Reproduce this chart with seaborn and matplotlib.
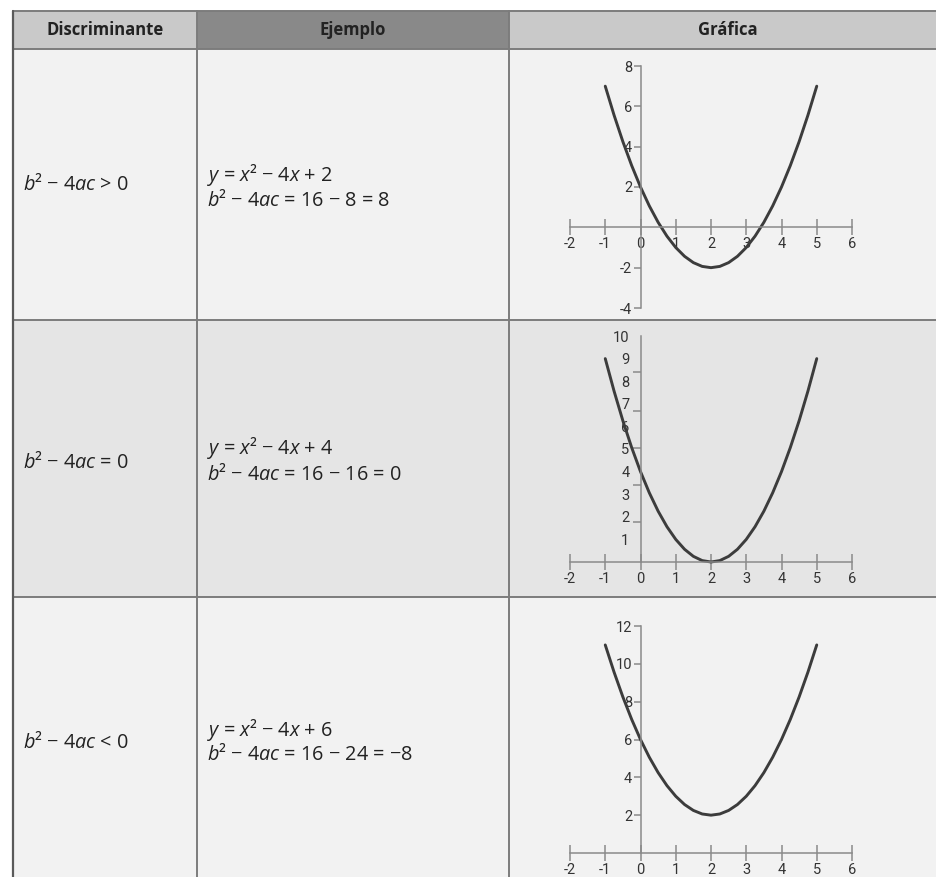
import matplotlib
matplotlib.use("Agg")
import matplotlib.pyplot as plt
import matplotlib.patches as mpatches
import seaborn as sns
import pandas as pd

# ---------------------------------------------------
# Data read from the reference table
# ---------------------------------------------------

headers = ["Discriminante", "Ejemplo", "Gráfica"]

discriminant_labels = [
    "$b$² − 4$ac$ > 0",
    "$b$² − 4$ac$ = 0",
    "$b$² − 4$ac$ < 0",
]

example_lines = [
    ["$y$ = $x$² − 4$x$ + 2", "$b$² − 4$ac$ = 16 − 8 = 8"],
    ["$y$ = $x$² − 4$x$ + 4", "$b$² − 4$ac$ = 16 − 16 = 0"],
    ["$y$ = $x$² − 4$x$ + 6", "$b$² − 4$ac$ = 16 − 24 = −8"],
]

# curve points (every quarter unit)
curve_x = [-1, -0.75, -0.5, -0.25, 0, 0.25, 0.5, 0.75, 1, 1.25, 1.5, 1.75, 2,
           2.25, 2.5, 2.75, 3, 3.25, 3.5, 3.75, 4, 4.25, 4.5, 4.75, 5]
curve_y1 = [7, 5.5625, 4.25, 3.0625, 2, 1.0625, 0.25, -0.4375, -1, -1.4375, -1.75,
            -1.9375, -2, -1.9375, -1.75, -1.4375, -1, -0.4375, 0.25, 1.0625, 2,
            3.0625, 4.25, 5.5625, 7]
curve_y2 = [9, 7.5625, 6.25, 5.0625, 4, 3.0625, 2.25, 1.5625, 1, 0.5625, 0.25,
            0.0625, 0, 0.0625, 0.25, 0.5625, 1, 1.5625, 2.25, 3.0625, 4,
            5.0625, 6.25, 7.5625, 9]
curve_y3 = [11, 9.5625, 8.25, 7.0625, 6, 5.0625, 4.25, 3.5625, 3, 2.5625, 2.25,
            2.0625, 2, 2.0625, 2.25, 2.5625, 3, 3.5625, 4.25, 5.0625, 6,
            7.0625, 8.25, 9.5625, 11]

x_ticks = [-2, -1, 0, 1, 2, 3, 4, 5, 6]
y_ticks1 = [-4, -2, 2, 4, 6, 8]
y_ticks2 = [1, 2, 3, 4, 5, 6, 7, 8, 9, 10]
y_marks2 = [10, 8.4, 6.7, 5.05, 3.4, 1.75]
y_ticks3 = [2, 4, 6, 8, 10, 12]

# ---------------------------------------------------
# Style
# ---------------------------------------------------

sns.set_theme(style="white")
plt.rcParams["font.family"] = ["Open Sans", "DejaVu Sans"]
plt.rcParams["mathtext.fontset"] = "custom"
plt.rcParams["mathtext.rm"] = "Open Sans"
plt.rcParams["mathtext.it"] = "Open Sans:italic"
plt.rcParams["mathtext.bf"] = "Open Sans:bold"

W, H = 937, 877
fig = plt.figure(figsize=(W / 100, H / 100), dpi=100)
fig.patch.set_facecolor("white")

# ---------------------------------------------------
# Table background (pixel coordinates)
# ---------------------------------------------------

bg = fig.add_axes([0, 0, 1, 1], zorder=-1)
bg.set_xlim(0, W)
bg.set_ylim(H, 0)
bg.axis("off")

col_x = [13, 197, 509, 960]
row_y = [11, 49, 320, 597, 900]
header_colors = ["#c9c9c9", "#898989", "#c9c9c9"]
row_colors = ["#f2f2f2", "#e5e5e5", "#f2f2f2"]
line_color = "#7c7c7c"

for i in range(3):
    bg.add_patch(mpatches.Rectangle((col_x[i], row_y[0]), col_x[i + 1] - col_x[i],
                                    row_y[1] - row_y[0], color=header_colors[i], lw=0))
    bg.add_patch(mpatches.Rectangle((col_x[0], row_y[i + 1]), col_x[-1] - col_x[0],
                                    row_y[i + 2] - row_y[i + 1], color=row_colors[i], lw=0))

for y in row_y[:-1]:
    bg.plot([col_x[0], col_x[-1]], [y, y], color=line_color, lw=1.4)
for x in col_x[:-1]:
    bg.plot([x, x], [row_y[0], row_y[-1]], color=line_color, lw=1.4)
bg.plot([col_x[0], col_x[0]], [row_y[0], row_y[-1]], color="#5a5a5a", lw=1.6)

header_centers = [105, 353, 728]
for text, cx in zip(headers, header_centers):
    bg.text(cx, 30, text, ha="center", va="center", fontsize=12,
            fontweight="bold", color="#222222")

col1_y = [185, 462, 743]
col2_y = [[175, 200], [448, 474], [730, 755]]
for i in range(3):
    bg.text(23, col1_y[i], discriminant_labels[i], ha="left", va="center",
            fontsize=14.3, color="#222222")
    for line, yy in zip(example_lines[i], col2_y[i]):
        bg.text(207, yy, line, ha="left", va="center", fontsize=14.3, color="#222222")

# ---------------------------------------------------
# Graphs
# ---------------------------------------------------

axis_color = "#8a8a8a"
curve_color = "#3c3c3c"
tick_font = ["Roboto", "DejaVu Sans"]


def draw_graph(rect, ys, ylim, yticks, ymarks=None):
    ax = fig.add_axes(rect)
    ax.set_facecolor("none")
    df = pd.DataFrame({"x": curve_x, "y": ys})
    sns.lineplot(data=df, x="x", y="y", ax=ax, color=curve_color, linewidth=2.1,
                 clip_on=False)
    ax.set_xlim(-2, 6)
    ax.set_ylim(*ylim)
    ax.set_xlabel("")
    ax.set_ylabel("")

    for side in ["top", "right"]:
        ax.spines[side].set_visible(False)
    ax.spines["left"].set_position(("data", 0))
    ax.spines["bottom"].set_position(("data", 0))
    for side in ["left", "bottom"]:
        ax.spines[side].set_color(axis_color)
        ax.spines[side].set_linewidth(1.1)

    ax.set_xticks(x_ticks)
    ax.set_xticklabels([str(t) for t in x_ticks])
    ax.tick_params(axis="x", bottom=True, direction="inout", length=11.5, width=1.1,
                   color=axis_color, pad=1.5, labelsize=10.5, labelcolor="#333333")

    ax.set_yticks(yticks)
    ax.set_yticklabels([str(t) for t in yticks])
    if ymarks is None:
        ax.tick_params(axis="y", left=True, direction="out", length=5, width=1.1,
                       color=axis_color, pad=1, labelsize=10.5, labelcolor="#333333")
    else:
        ax.tick_params(axis="y", which="major", left=True, length=0, pad=8,
                       labelsize=10.5, labelcolor="#333333")
        ax.set_yticks(ymarks, minor=True)
        ax.tick_params(axis="y", which="minor", direction="out", length=5.5,
                       width=1.1, color=axis_color, left=True)
    for lab in ax.get_xticklabels() + ax.get_yticklabels():
        lab.set_family(tick_font)
    ax.grid(False)
    return ax


draw_graph([570 / W, (H - 308) / H, 282 / W, 242 / H], curve_y1, (-4, 8), y_ticks1)
draw_graph([570 / W, (H - 562) / H, 282 / W, 226 / H], curve_y2, (0, 10), y_ticks2, y_marks2)
draw_graph([570 / W, (H - 853) / H, 282 / W, 227 / H], curve_y3, (0, 12), y_ticks3)

fig.savefig("out.png", dpi=100)
